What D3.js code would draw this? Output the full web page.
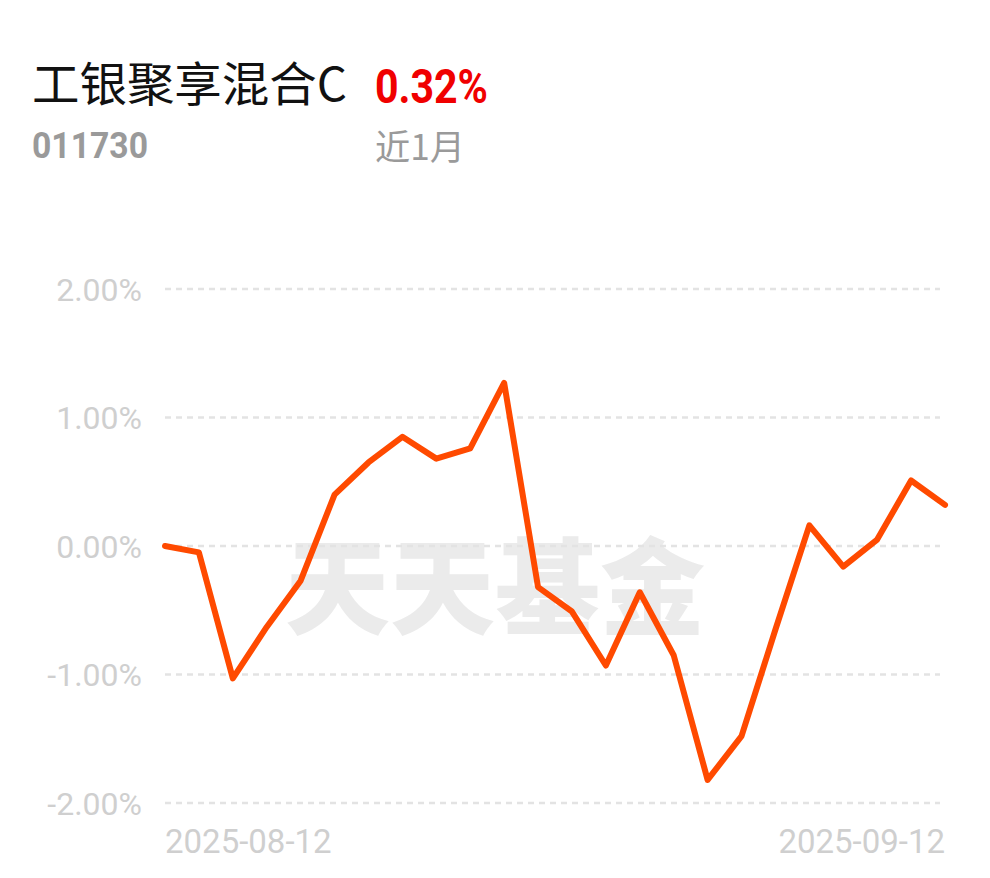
<!DOCTYPE html>
<html>
<head>
<meta charset="utf-8">
<script src="https://cdn.jsdelivr.net/npm/d3@7"></script>
<style>
html,body{margin:0;padding:0;background:#fff;}
svg{display:block;}
</style>
</head>
<body>
<svg id="chart" width="990" height="878"></svg>
<script>
const fundName = "工银聚享混合C";
const fundCode = "011730";
const periodReturn = "0.32%";
const periodLabel = "近1月";
const watermark = "天天基金";

const dates = ["2025-08-12","2025-08-13","2025-08-14","2025-08-15","2025-08-18","2025-08-19","2025-08-20","2025-08-21","2025-08-22","2025-08-25","2025-08-26","2025-08-27","2025-08-28","2025-08-29","2025-09-01","2025-09-02","2025-09-03","2025-09-04","2025-09-05","2025-09-08","2025-09-09","2025-09-10","2025-09-11","2025-09-12"];
const values = [0.00,-0.05,-1.03,-0.63,-0.27,0.40,0.65,0.85,0.68,0.76,1.27,-0.32,-0.51,-0.93,-0.36,-0.85,-1.82,-1.48,-0.65,0.16,-0.16,0.05,0.51,0.32];
const yTicks = [2,1,0,-1,-2];
const xTickLabels = ["2025-08-12","2025-09-12"];

const svg = d3.select("#chart");
const plotLeft = 165, plotRight = 945, plotTop = 289, plotBottom = 803;

const x = d3.scalePoint().domain(dates).range([plotLeft, plotRight]);
const y = d3.scaleLinear().domain([-2, 2]).range([plotBottom, plotTop]);

// Header
svg.append("text").attr("x", 32).attr("y", 101)
  .attr("font-family", "'Noto Sans CJK SC', sans-serif").attr("font-size", 47)
  .attr("fill", "#111").attr("textLength", 315).attr("lengthAdjust", "spacingAndGlyphs")
  .text(fundName);
svg.append("text").attr("x", 375).attr("y", 103)
  .attr("font-family", "Roboto, sans-serif").attr("font-weight", 700).attr("font-size", 49)
  .attr("fill", "#f00000").attr("textLength", 113).attr("lengthAdjust", "spacingAndGlyphs")
  .text(periodReturn);
svg.append("text").attr("x", 32).attr("y", 158)
  .attr("font-family", "Roboto, sans-serif").attr("font-weight", 700).attr("font-size", 36)
  .attr("fill", "#9a9a9a").attr("textLength", 116).attr("lengthAdjust", "spacingAndGlyphs")
  .text(fundCode);
svg.append("text").attr("x", 375).attr("y", 160)
  .attr("font-family", "'Noto Sans CJK SC', sans-serif").attr("font-size", 35)
  .attr("fill", "#9a9a9a").attr("textLength", 90).attr("lengthAdjust", "spacingAndGlyphs")
  .text(periodLabel);

// Watermark
svg.append("text").attr("x", 495).attr("y", 626)
  .attr("text-anchor", "middle")
  .attr("font-family", "'Noto Sans CJK SC', sans-serif").attr("font-weight", 900).attr("font-size", 105)
  .attr("fill", "#ebebeb").text(watermark);

// Grid lines
const grid = svg.append("g");
grid.selectAll("line").data(yTicks).join("line")
  .attr("x1", plotLeft).attr("x2", plotRight - 5)
  .attr("y1", d => y(d)).attr("y2", d => y(d))
  .attr("stroke", "#e3e3e3").attr("stroke-width", 2.5)
  .attr("stroke-dasharray", "6,5");

// Y labels
svg.append("g").selectAll("text").data(yTicks).join("text")
  .attr("x", 142).attr("y", d => y(d)).attr("dy", "0.36em")
  .attr("text-anchor", "end")
  .attr("font-family", "Roboto, sans-serif").attr("font-size", 32)
  .attr("fill", "#cfcfcf")
  .text(d => d.toFixed(2) + "%");

// X labels
svg.append("g").selectAll("text").data(xTickLabels).join("text")
  .attr("x", d => x(d)).attr("y", 853)
  .attr("text-anchor", (d, i) => i === 0 ? "start" : "end")
  .attr("font-family", "Roboto, sans-serif").attr("font-size", 33)
  .attr("fill", "#cfcfcf")
  .text(d => d);

// Line
const line = d3.line().x((d, i) => x(dates[i])).y(d => y(d));
svg.append("path").datum(values)
  .attr("d", line)
  .attr("fill", "none").attr("stroke", "#ff4a00").attr("stroke-width", 6)
  .attr("stroke-linejoin", "round").attr("stroke-linecap", "round");
</script>
</body>
</html>
